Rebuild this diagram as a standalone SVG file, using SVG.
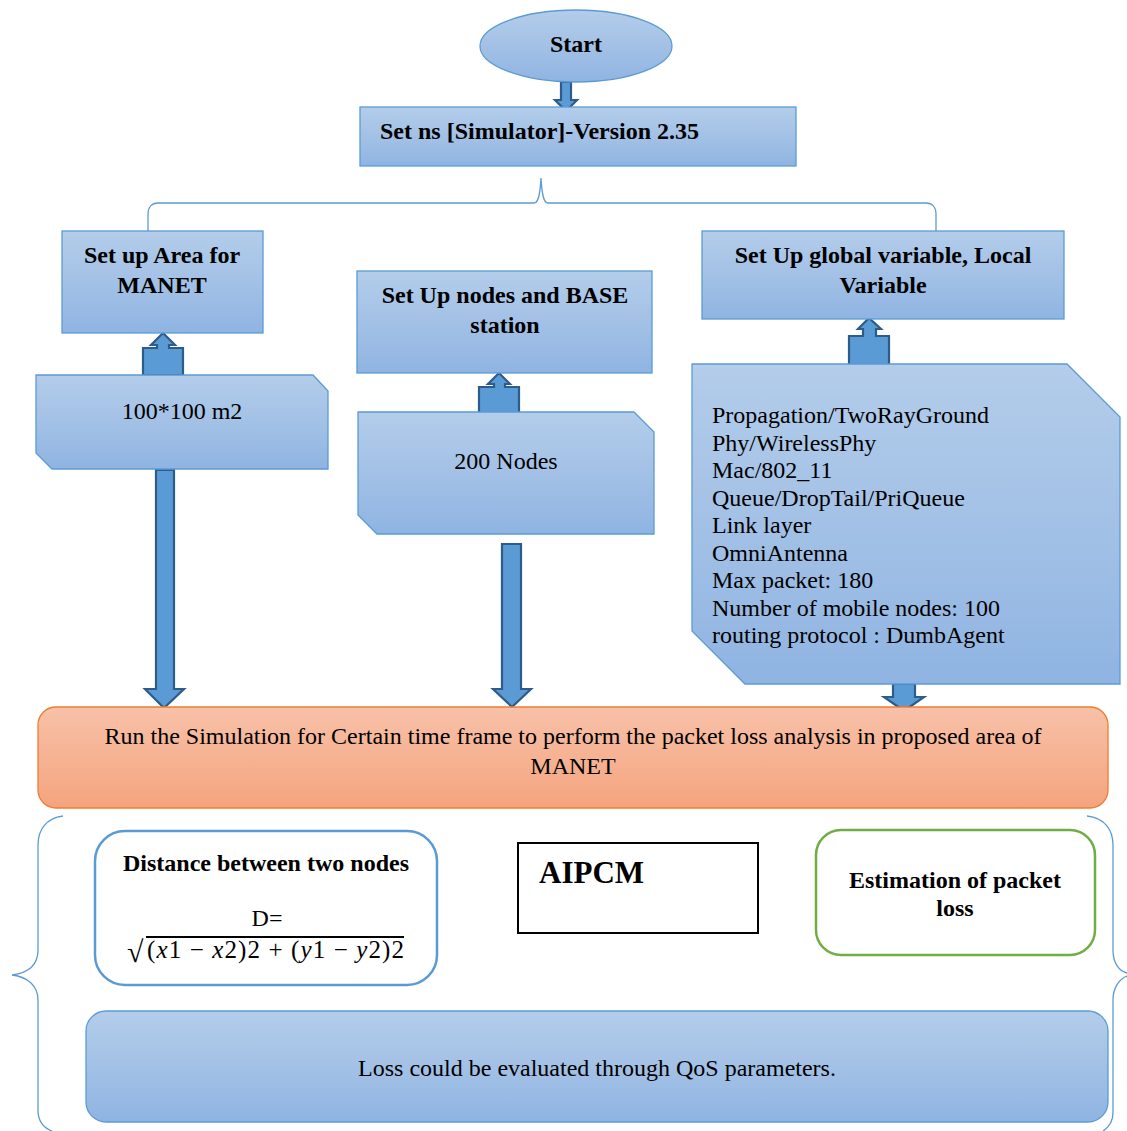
<svg xmlns="http://www.w3.org/2000/svg" width="1127" height="1131" viewBox="0 0 1127 1131">
<defs>
<linearGradient id="gb" x1="0" y1="0" x2="0" y2="1">
<stop offset="0" stop-color="#b3cdea"/>
<stop offset="0.5" stop-color="#a3c1e6"/>
<stop offset="1" stop-color="#8fb4e2"/>
</linearGradient>
<linearGradient id="go" x1="0" y1="0" x2="0" y2="1">
<stop offset="0" stop-color="#f8c1a8"/>
<stop offset="1" stop-color="#f4a47e"/>
</linearGradient>
<style>
.bx{fill:url(#gb);stroke:#5b9bd5;stroke-width:1.3}
.ar{fill:#5b9bd5;stroke:#2e5c8a;stroke-width:2.2;stroke-linejoin:miter}
.br{fill:none;stroke:#5b9bd5;stroke-width:1.3}
text{font-family:"Liberation Serif","Times New Roman",serif;fill:#000}
.b{font-weight:bold;font-size:24px}
.r{font-size:24px}
.c{text-anchor:middle}
</style>
</defs>
<g id="connectors">
<path class="br" d="M148,231 L148,214 C148,207 152,203 158,203 L534,203 C538,203 540,196 541,178 C542,196 544,203 548,203 L926,203 C932,203 936,207 936,214 L936,231"/>
<polygon class="ar" points="561,82 571,82 571,100 577,100 566,111 555,100 561,100"/>
<polygon class="ar" points="143,375 143,348 157,348 157,345 151,345 163,333 175,345 169,345 169,348 183,348 183,375"/>
<polygon class="ar" points="479,415 479,387 494,387 494,384 488,384 499,373 510,384 505,384 505,387 519,387 519,415"/>
<polygon class="ar" points="849,370 849,336 863,336 863,329 858,329 869,318 881,329 876,329 876,336 889,336 889,370"/>
<polygon class="ar" points="156,470 174,470 174,689 184,689 164,708 145,689 156,689"/>
<polygon class="ar" points="502,544 521,544 521,689 531,689 512,707 493,689 502,689"/>
<polygon class="ar" points="893,684 915,684 915,697 924,697 904,711 884,697 893,697"/>
<path class="br" d="M63,816 C46,818 38,830 38,845 L38,950 C38,965 28,973 12,975 C28,977 38,986 38,1000 L38,1110 C38,1122 44,1128 52,1131"/>
<path class="br" d="M1087,816 C1105,818 1113,830 1113,845 L1113,950 C1113,963 1119,971 1127,973 M1127,976 C1119,979 1113,988 1113,1000 L1113,1112 C1113,1122 1108,1128 1103,1131"/>
</g>
<g id="start">
<ellipse class="bx" cx="576" cy="46" rx="96" ry="36"/>
<text class="b c" x="576" y="52">Start</text>
</g>
<g id="setns">
<rect class="bx" x="360" y="107" width="436" height="59"/>
<text class="b" x="380" y="139">Set ns [Simulator]-Version 2.35</text>
</g>
<g id="area">
<rect class="bx" x="62" y="231" width="201" height="102"/>
<text class="b c" x="162" y="263">Set up Area for</text>
<text class="b c" x="162" y="293">MANET</text>
</g>
<g id="nodes">
<rect class="bx" x="357" y="271" width="295" height="102"/>
<text class="b c" x="505" y="303">Set Up nodes and BASE</text>
<text class="b c" x="505" y="333">station</text>
</g>
<g id="global">
<rect class="bx" x="702" y="231" width="362" height="88"/>
<text class="b c" x="883" y="263">Set Up global variable, Local</text>
<text class="b c" x="883" y="293">Variable</text>
</g>
<g id="areaValue">
<polygon class="bx" points="36,375 313,375 328,391 328,469 52,469 36,453"/>
<text class="r c" x="182" y="419">100*100 m2</text>
</g>
<g id="nodesValue">
<polygon class="bx" points="358,412 634,412 654,432 654,534 377,534 358,515"/>
<text class="r c" x="506" y="469">200 Nodes</text>
</g>
<g id="params">
<polygon class="bx" points="692,364 1067,364 1120,417 1120,684 745,684 692,631"/>
<text class="r" x="712" y="423">Propagation/TwoRayGround</text>
<text class="r" x="712" y="450.5">Phy/WirelessPhy</text>
<text class="r" x="712" y="478">Mac/802_11</text>
<text class="r" x="712" y="505.5">Queue/DropTail/PriQueue</text>
<text class="r" x="712" y="533">Link layer</text>
<text class="r" x="712" y="560.5">OmniAntenna</text>
<text class="r" x="712" y="588">Max packet: 180</text>
<text class="r" x="712" y="615.5">Number of mobile nodes: 100</text>
<text class="r" x="712" y="643">routing protocol : DumbAgent</text>
</g>
<g id="run">
<rect x="38" y="707" width="1070" height="101" rx="18" fill="url(#go)" stroke="#ed7d31" stroke-width="1.3"/>
<text class="r c" x="573" y="744">Run the Simulation for Certain time frame to perform the packet loss analysis in proposed area of</text>
<text class="r c" x="573" y="774">MANET</text>
</g>
<g id="distance">
<rect x="95" y="831" width="342" height="154" rx="30" fill="#fff" stroke="#5b9bd5" stroke-width="2.5"/>
<text class="b c" x="266" y="871">Distance between two nodes</text>
<text class="r c" x="267" y="926">D=</text>
<text x="127" y="962" font-size="30">√</text>
<line x1="146" y1="937" x2="404" y2="937" stroke="#000" stroke-width="1.8"/>
<text x="147" y="958" font-size="25" textLength="257" lengthAdjust="spacing">(<tspan font-style="italic">x</tspan>1 − <tspan font-style="italic">x</tspan>2)2 + (<tspan font-style="italic">y</tspan>1 − <tspan font-style="italic">y</tspan>2)2</text>
</g>
<g id="aipcm">
<rect x="518" y="843" width="240" height="90" fill="#fff" stroke="#000" stroke-width="2"/>
<text x="539" y="883" font-size="31" font-weight="bold">AIPCM</text>
</g>
<g id="estimation">
<rect x="816" y="830" width="279" height="125" rx="25" fill="#fff" stroke="#70ad47" stroke-width="2.5"/>
<text class="b c" x="955" y="888">Estimation of packet</text>
<text class="b c" x="955" y="916">loss</text>
</g>
<g id="loss">
<rect class="bx" x="86" y="1011" width="1022" height="111" rx="20"/>
<text class="r c" x="597" y="1076">Loss could be evaluated through QoS parameters.</text>
</g>
</svg>
